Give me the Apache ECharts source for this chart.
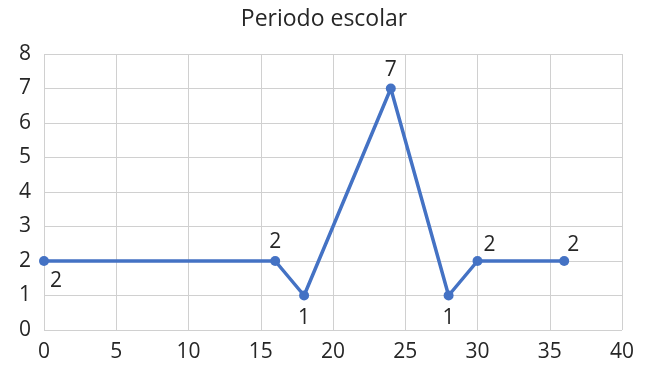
<!DOCTYPE html>
<html>
<head>
<meta charset="utf-8">
<script src="https://cdn.jsdelivr.net/npm/echarts@6/dist/echarts.min.js"></script>
<style>html,body{margin:0;padding:0;background:#fff}#c{width:648px;height:368px}</style>
</head>
<body>
<div id="c"></div>
<script>
var titleText = 'Periodo escolar';
var xValues = [0, 16, 18, 24, 28, 30, 36];
var yValues = [2, 2, 1, 7, 1, 2, 2];

var FONT = '"Open Sans", Lato, sans-serif';
var TXT = '#262626';
var labelCfg = [
  {position: 'bottom', offset: [12, 0]},
  {position: 'top', offset: [0, 2]},
  {position: 'bottom', offset: [0, 2]},
  {position: 'top', offset: [0, 2]},
  {position: 'bottom', offset: [0, 2]},
  {position: 'top', offset: [12, 5]},
  {position: 'top', offset: [9, 5]}
];
var data = xValues.map(function (x, i) {
  return {value: [x, yValues[i]], label: labelCfg[i]};
});

var chart = echarts.init(document.getElementById('c'), null, {renderer: 'canvas'});
chart.setOption({
  animation: false,
  backgroundColor: '#fff',
  title: {
    text: titleText, left: 'center', top: 3,
    textStyle: {fontFamily: FONT, fontWeight: 'normal', fontSize: 23, color: TXT}
  },
  grid: {left: 44, right: 26, top: 54, bottom: 38, containLabel: false},
  xAxis: {
    type: 'value', min: 0, max: 40, interval: 5,
    axisLine: {show: false}, axisTick: {show: false},
    splitLine: {show: true, lineStyle: {color: '#d0d0d0', width: 1}},
    axisLabel: {fontFamily: FONT, fontSize: 21, color: TXT, margin: 12}
  },
  yAxis: {
    type: 'value', min: 0, max: 8, interval: 1,
    axisLine: {show: false}, axisTick: {show: false},
    splitLine: {show: true, lineStyle: {color: '#d0d0d0', width: 1}},
    axisLabel: {fontFamily: FONT, fontSize: 21, color: TXT, margin: 13}
  },
  series: [{
    type: 'line', data: data,
    symbol: 'circle', symbolSize: 10,
    lineStyle: {color: '#4472C4', width: 3.5},
    itemStyle: {color: '#4472C4'},
    label: {show: true, fontFamily: FONT, fontSize: 21, color: TXT,
      formatter: function (p) { return p.value[1]; }}
  }]
});
</script>
</body>
</html>
